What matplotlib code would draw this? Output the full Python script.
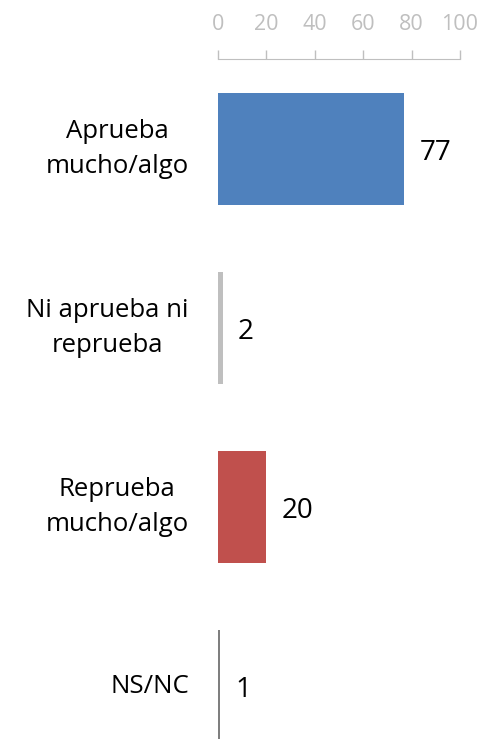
import matplotlib
matplotlib.use("Agg")
import matplotlib.pyplot as plt
import numpy as np

# data
categories = ["Aprueba\nmucho/algo", "Ni aprueba ni\nreprueba", "Reprueba\nmucho/algo", "NS/NC"]
values = [77, 2, 20, 1]
colors = ["#4F81BD", "#BFBFBF", "#C0504D", "#7F7F7F"]
ticks = [0, 20, 40, 60, 80, 100]

plt.rcParams['font.family'] = ['Open Sans', 'DejaVu Sans']

W, H = 483, 739
fig = plt.figure(figsize=(W / 100, H / 100), dpi=100)
ax = fig.add_axes([218 / W, 0, 242 / W, 680 / H])

y = np.arange(len(categories))
ax.barh(y, values, height=0.625, color=colors)

ax.set_xlim(0, 100)
ax.set_ylim(3.296, -0.503)

ax.xaxis.set_ticks_position('top')
ax.set_xticks(ticks)
ax.set_xticklabels([str(t) for t in ticks])
ax.tick_params(axis='x', colors='#BFBFBF', labelcolor='#BFBFBF', labelsize=15.5,
               length=6.5, width=1, pad=10.5)
ax.set_yticks([])

for s in ['left', 'right', 'bottom']:
    ax.spines[s].set_visible(False)
ax.spines['top'].set_color('#BFBFBF')

for yi, v in zip(y, values):
    ax.annotate(str(v), xy=(v, yi), xytext=(11, 0), textcoords='offset points',
                ha='left', va='center_baseline', fontsize=20, color='black')

for yi, c in zip(y, categories):
    ax.annotate(c, xy=(0, yi), xytext=(-21, 0), textcoords='offset points',
                ha='right', va='center', multialignment='center',
                fontsize=18.5, color='black', linespacing=1.55)

fig.savefig("out.png", dpi=100)
